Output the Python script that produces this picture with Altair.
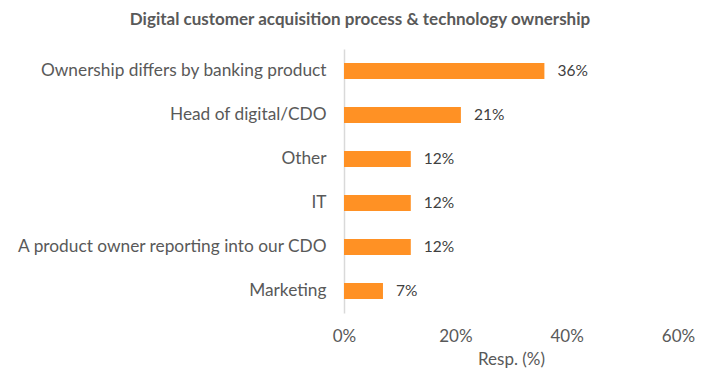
import altair as alt
import pandas as pd

categories = [
    "Ownership differs by banking product",
    "Head of digital/CDO",
    "Other",
    "IT",
    "A product owner reporting into our CDO",
    "Marketing",
]
values = [0.36, 0.21, 0.12, 0.12, 0.12, 0.07]
x_ticks = [0, 0.2, 0.4, 0.6]

df = pd.DataFrame({"cat": categories, "val": values})

FONT = "Lato"
GREY = "#595959"

y_enc = alt.Y(
    "cat:N",
    sort=categories,
    title=None,
    scale=alt.Scale(paddingInner=0.64, paddingOuter=0.32),
    axis=alt.Axis(
        domain=True, domainColor="#D9D9D9", domainWidth=1.5, ticks=False,
        labelFont=FONT, labelFontSize=17.3, labelColor=GREY, labelPadding=18,
        labelLimit=400,
    ),
)
x_enc = alt.X(
    "val:Q",
    title="Resp. (%)",
    scale=alt.Scale(domain=[0, 0.6]),
    axis=alt.Axis(
        values=x_ticks, format=".0%", grid=False, domain=False, ticks=False,
        labelFlush=False,
        labelFont=FONT, labelFontSize=17, labelColor=GREY, labelPadding=15,
        titleFont=FONT, titleFontSize=17, titleColor=GREY, titleFontWeight="normal",
        titlePadding=7,
    ),
)

bars = alt.Chart(df).mark_bar(color="#FF9124").encode(x=x_enc, y=y_enc)
labels = alt.Chart(df).mark_text(
    align="left", baseline="middle", dx=13, font=FONT, fontSize=15.5, color="#404040"
).encode(x="val:Q", y=alt.Y("cat:N", sort=categories), text=alt.Text("val:Q", format=".0%"))

chart = (
    alt.layer(bars, labels)
    .properties(
        width=334,
        height=264,
        autosize=alt.AutoSizeParams(type="none"),
        padding={"left": 336, "top": 41, "right": 35, "bottom": 58},
        title=alt.TitleParams(
            "Digital customer acquisition process & technology ownership",
            font=FONT, fontSize=17, fontWeight="bold", color=GREY,
            anchor="middle", dx=-151, offset=20,
        ),
    )
    .configure_view(stroke=None)
)

chart.save("out.html", embed_options={"renderer": "svg", "actions": False})
